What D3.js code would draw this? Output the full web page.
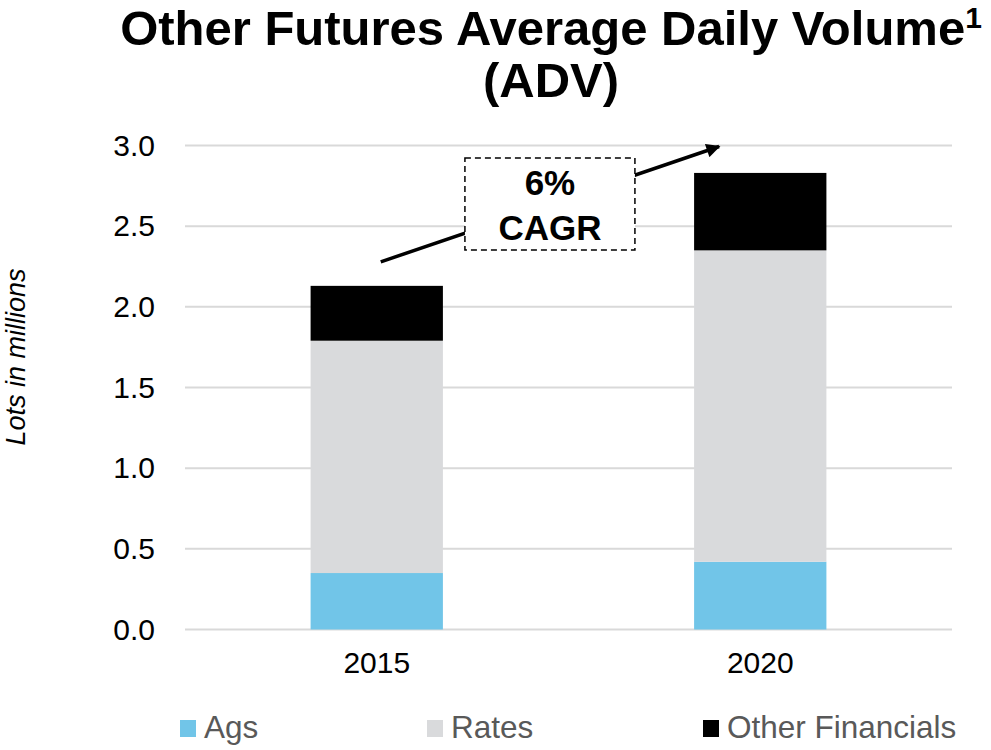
<!DOCTYPE html>
<html>
<head>
<meta charset="utf-8">
<script src="https://cdn.jsdelivr.net/npm/d3@7"></script>
<style>
  body { margin: 0; background: #fff; }
  text { font-family: Arial, "Liberation Sans", sans-serif; }
</style>
</head>
<body>
<div id="chart"></div>
<script>
// data
var years = ["2015", "2020"];
var seriesNames = ["Ags", "Rates", "Other Financials"];
var ags = [0.35, 0.42];
var rates = [1.44, 1.93];
var otherFinancials = [0.34, 0.48];
var yTicks = [0.0, 0.5, 1.0, 1.5, 2.0, 2.5, 3.0];
var colors = ["#71c5e8", "#d9dadc", "#000000"];
var cagrLabel = ["6%", "CAGR"];

var width = 991,
    height = 750;

var svg = d3.select("#chart").append("svg")
    .attr("width", width)
    .attr("height", height);

var x = d3.scaleBand()
    .domain(years)
    .range([185, 952])
    .paddingInner(0.655)
    .paddingOuter(0.3275);

var y = d3.scaleLinear()
    .domain([0, 3])
    .range([629.5, 145.5]);

// build table for the stack
var table = years.map(function(yr, i) {
    return { year: yr, "Ags": ags[i], "Rates": rates[i], "Other Financials": otherFinancials[i] };
});
var stacked = d3.stack().keys(seriesNames)(table);

// title
var title = svg.append("text")
    .attr("x", 551)
    .attr("y", 45)
    .attr("text-anchor", "middle")
    .style("font-size", "49px")
    .style("font-weight", "bold");
title.append("tspan").text("Other Futures Average Daily Volume");
title.append("tspan").text("1").attr("dy", -17).style("font-size", "30px");

svg.append("text")
    .attr("x", 551)
    .attr("y", 97)
    .attr("text-anchor", "middle")
    .style("font-size", "49px")
    .style("font-weight", "bold")
    .text("(ADV)");

// gridlines
svg.selectAll(".grid")
    .data(yTicks)
    .enter().append("line")
    .attr("class", "grid")
    .attr("x1", 185)
    .attr("x2", 952)
    .attr("y1", function(d) { return y(d); })
    .attr("y2", function(d) { return y(d); })
    .style("stroke", "#d9d9d9")
    .style("stroke-width", 2);

// y axis labels
var yAxis = svg.append("g")
    .attr("transform", "translate(165,0)")
    .call(d3.axisLeft(y).tickValues(yTicks).tickFormat(d3.format(".1f")).tickSize(0).tickPadding(10));
yAxis.select(".domain").remove();
yAxis.selectAll("text")
    .style("font-size", "30px")
    .style("fill", "#000")
    .style("font-family", "Arial, 'Liberation Sans', sans-serif");

// x axis labels
var xAxis = svg.append("g")
    .attr("transform", "translate(0," + y(0) + ")")
    .call(d3.axisBottom(x).tickSize(0).tickPadding(22));
xAxis.select(".domain").remove();
xAxis.selectAll("text")
    .style("font-size", "30px")
    .style("fill", "#000")
    .style("font-family", "Arial, 'Liberation Sans', sans-serif");

// y title
svg.append("text")
    .attr("transform", "translate(25,357) rotate(-90)")
    .attr("text-anchor", "middle")
    .style("font-size", "27px")
    .style("font-style", "italic")
    .text("Lots in millions");

// bars
var layers = svg.selectAll(".layer")
    .data(stacked)
    .enter().append("g")
    .attr("class", "layer")
    .attr("fill", function(d, i) { return colors[i]; });

layers.selectAll("rect")
    .data(function(d) { return d; })
    .enter().append("rect")
    .attr("x", function(d) { return x(d.data.year); })
    .attr("width", x.bandwidth())
    .attr("y", function(d) { return y(d[1]); })
    .attr("height", function(d) { return y(d[0]) - y(d[1]); });

// CAGR arrow
var defs = svg.append("defs");
defs.append("marker")
    .attr("id", "arrowhead")
    .attr("viewBox", "0 0 10 10")
    .attr("refX", 9)
    .attr("refY", 5)
    .attr("markerWidth", 4.5)
    .attr("markerHeight", 4)
    .attr("markerUnits", "strokeWidth")
    .attr("orient", "auto")
    .append("path")
    .attr("d", "M0,0 L10,5 L0,10 Z")
    .attr("fill", "#000");

var total2015 = ags[0] + rates[0] + otherFinancials[0];
var ax1 = x("2015") + x.bandwidth() / 2 + 4,
    ay1 = y(total2015) - 24,
    ax2 = x("2020") + 25,
    ay2 = y(3) + 1;

svg.append("line")
    .attr("x1", ax1)
    .attr("y1", ay1)
    .attr("x2", ax2)
    .attr("y2", ay2)
    .style("stroke", "#000")
    .style("stroke-width", 3.5)
    .attr("marker-end", "url(#arrowhead)");

var boxCx = (ax1 + ax2) / 2;
svg.append("rect")
    .attr("x", boxCx - 85)
    .attr("y", 158)
    .attr("width", 170)
    .attr("height", 92)
    .style("fill", "#fff")
    .style("stroke", "#000")
    .style("stroke-width", 1.5)
    .style("stroke-dasharray", "6,4");

svg.selectAll(".cagr")
    .data(cagrLabel)
    .enter().append("text")
    .attr("class", "cagr")
    .attr("x", boxCx)
    .attr("y", function(d, i) { return 195 + i * 45; })
    .attr("text-anchor", "middle")
    .style("font-size", "35px")
    .style("font-weight", "bold")
    .text(function(d) { return d; });

// legend
var legendX = [180, 427, 703];
var legend = svg.selectAll(".legend")
    .data(seriesNames)
    .enter().append("g")
    .attr("class", "legend")
    .attr("transform", function(d, i) { return "translate(" + legendX[i] + ",0)"; });

legend.append("rect")
    .attr("x", 0)
    .attr("y", 720)
    .attr("width", 16)
    .attr("height", 17)
    .attr("fill", function(d, i) { return colors[i]; });

legend.append("text")
    .attr("x", 24)
    .attr("y", 738)
    .style("font-size", "31.5px")
    .style("fill", "#595959")
    .text(function(d) { return d; });
</script>
</body>
</html>
